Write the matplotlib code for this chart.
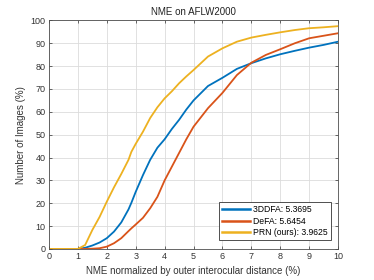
import matplotlib
matplotlib.use("Agg")
import matplotlib.pyplot as plt

x = [0, 1, 1.25, 1.5, 1.75, 2, 2.25, 2.5, 2.75, 2.85, 3, 3.25, 3.5, 3.75, 4, 4.25, 4.5, 4.75,
     5, 5.5, 6, 6.5, 7, 7.5, 8, 8.5, 9, 9.5, 10]
ddfa = [0, 0, 0.5, 1.5, 2.8, 4.7, 7.6, 11.6, 17.3, 20.2, 25, 32.3, 39, 44.3, 48, 52.5, 56.5, 61,
        65, 71.3, 74.9, 78.8, 81.3, 83.4, 85.2, 86.7, 88.1, 89.3, 90.7]
defa = [0, 0, 0, 0.1, 0.3, 1, 2.5, 4.7, 7.8, 9, 10.7, 13.6, 17.8, 22.8, 30, 36, 42, 48,
        53.5, 61.6, 68.3, 76.1, 81.5, 84.9, 87.4, 90, 92.2, 93.3, 94.4]
prn = [0, 0, 1.7, 8.3, 14, 20.7, 27, 32.8, 39, 42.5, 46, 51.3, 57.3, 62, 65.9, 69, 72.5, 75.5,
       78.3, 84.2, 87.8, 90.7, 92.5, 93.7, 94.8, 95.8, 96.6, 97, 97.5]
labels = ["3DDFA: 5.3695", "DeFA: 5.6454", "PRN (ours): 3.9625"]
colors = ["#0072BD", "#D95319", "#EDB120"]

plt.rcParams['font.family'] = ['Liberation Sans', 'DejaVu Sans']
fig = plt.figure(figsize=(3.74, 2.80), dpi=100)
ax = fig.add_axes([0.131, 0.111, 0.773, 0.816])
for y, lab, c in zip([ddfa, defa, prn], labels, colors):
    ax.plot(x, y, color=c, lw=1.3, label=lab)
ax.set_xlim(0, 10)
ax.set_ylim(0, 100)
ax.set_xticks(range(0, 11))
ax.set_yticks(range(0, 101, 10))
ax.grid(True, color='#dcdcdc', lw=0.6)
ax.set_axisbelow(True)
ac = '#4d4d4d'
for s in ax.spines.values():
    s.set_color(ac)
    s.set_linewidth(0.6)
ax.tick_params(direction='in', length=2.5, width=0.6, colors=ac, labelsize=6.5,
               top=True, right=True, labelcolor='#333333', pad=2.5)
ax.set_title("NME on AFLW2000", fontsize=7, color='#222222', pad=4)
ax.set_xlabel("NME normalized by outer interocular distance (%)", fontsize=7, color='#333333', labelpad=3)
ax.set_ylabel("Number of Images (%)", fontsize=7, color='#333333', labelpad=3)
leg = ax.legend(loc='lower right', bbox_to_anchor=(0.975, 0.04), fontsize=6.2, frameon=True,
                fancybox=False, edgecolor='#333333', framealpha=1, handlelength=3.2,
                handletextpad=0.4, borderpad=0.35, labelspacing=0.25, borderaxespad=0)
leg.get_frame().set_linewidth(0.6)
for line in leg.get_lines():
    line.set_linewidth(1.8)
fig.savefig("out.png", dpi=100)
